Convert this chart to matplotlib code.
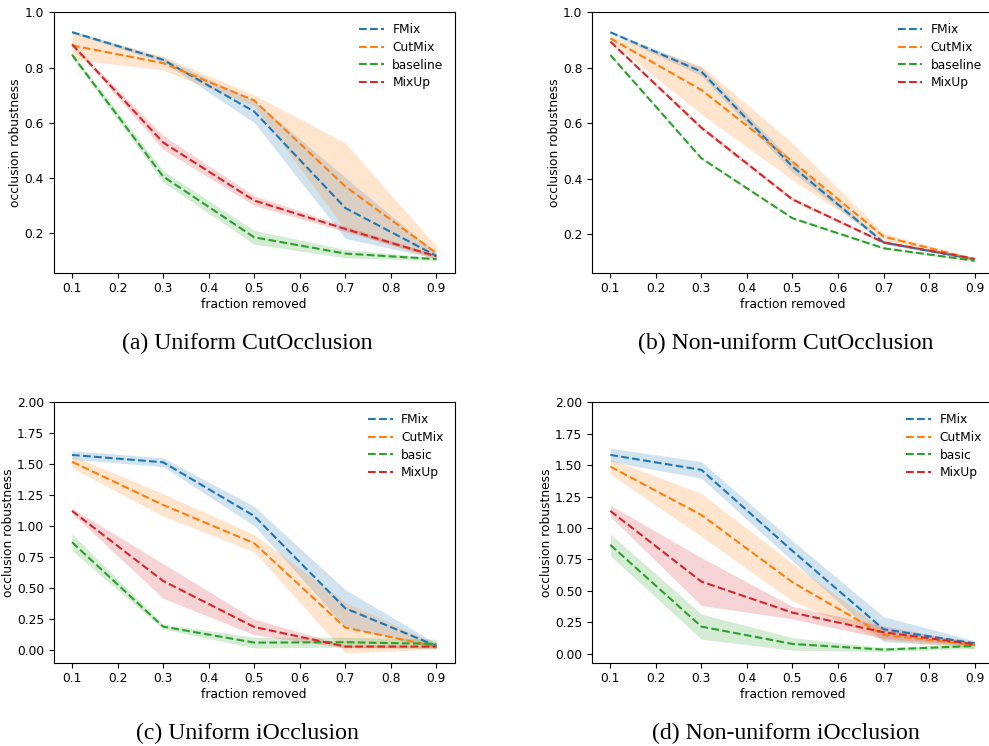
import numpy as np
import matplotlib
matplotlib.use("Agg")
import matplotlib.pyplot as plt

frac = [0.1, 0.3, 0.5, 0.7, 0.9]
methods_top = ["FMix", "CutMix", "baseline", "MixUp"]
methods_bot = ["FMix", "CutMix", "basic", "MixUp"]
colors = ["#1f77b4", "#ff7f0e", "#2ca02c", "#d62728"]

# (a) Uniform CutOcclusion: mean, std
a_mean = {
    "FMix":     [0.928, 0.828, 0.641, 0.292, 0.119],
    "CutMix":   [0.880, 0.816, 0.681, 0.370, 0.129],
    "baseline": [0.846, 0.406, 0.186, 0.127, 0.107],
    "MixUp":    [0.884, 0.529, 0.319, 0.216, 0.117],
}
a_std = {
    "FMix":     [0.005, 0.008, 0.040, 0.110, 0.010],
    "CutMix":   [0.050, 0.025, 0.020, 0.157, 0.024],
    "baseline": [0.008, 0.021, 0.025, 0.015, 0.005],
    "MixUp":    [0.005, 0.025, 0.018, 0.010, 0.005],
}
# (b) Non-uniform CutOcclusion
b_mean = {
    "FMix":     [0.928, 0.786, 0.444, 0.171, 0.110],
    "CutMix":   [0.906, 0.720, 0.462, 0.192, 0.110],
    "baseline": [0.846, 0.474, 0.258, 0.150, 0.105],
    "MixUp":    [0.894, 0.584, 0.326, 0.171, 0.112],
}
b_std = {
    "FMix":     [0.004, 0.015, 0.020, 0.006, 0.003],
    "CutMix":   [0.010, 0.087, 0.066, 0.012, 0.004],
    "baseline": [0.003, 0.003, 0.003, 0.003, 0.003],
    "MixUp":    [0.004, 0.008, 0.006, 0.004, 0.003],
}
# (c) Uniform iOcclusion
c_mean = {
    "FMix":   [1.575, 1.516, 1.083, 0.339, 0.035],
    "CutMix": [1.520, 1.172, 0.863, 0.183, 0.030],
    "basic":  [0.871, 0.191, 0.062, 0.065, 0.051],
    "MixUp":  [1.124, 0.559, 0.188, 0.030, 0.030],
}
c_std = {
    "FMix":   [0.035, 0.035, 0.078, 0.150, 0.020],
    "CutMix": [0.050, 0.090, 0.070, 0.205, 0.020],
    "basic":  [0.067, 0.020, 0.043, 0.040, 0.038],
    "MixUp":  [0.020, 0.140, 0.063, 0.010, 0.010],
}
# (d) Non-uniform iOcclusion
d_mean = {
    "FMix":   [1.581, 1.462, 0.817, 0.194, 0.082],
    "CutMix": [1.488, 1.103, 0.568, 0.149, 0.069],
    "basic":  [0.865, 0.215, 0.077, 0.032, 0.061],
    "MixUp":  [1.135, 0.573, 0.326, 0.170, 0.074],
}
d_std = {
    "FMix":   [0.053, 0.066, 0.080, 0.100, 0.020],
    "CutMix": [0.060, 0.170, 0.150, 0.040, 0.030],
    "basic":  [0.086, 0.100, 0.050, 0.015, 0.020],
    "MixUp":  [0.045, 0.190, 0.050, 0.050, 0.010],
}

captions = ["(a) Uniform CutOcclusion", "(b) Non-uniform CutOcclusion",
            "(c) Uniform iOcclusion", "(d) Non-uniform iOcclusion"]

fig = plt.figure(figsize=(9.89, 7.46), dpi=100)
fs = 8.8

def panel(rect, means, stds, names, ylim, yticks, yfmt):
    ax = fig.add_axes(rect)
    x = np.array(frac)
    for name, c in zip(names, colors):
        m = np.array(means[name])
        s = np.array(stds[name])
        ax.plot(x, m, "--", color=c, lw=1.5, label=name)
        ax.fill_between(x, m - s, m + s, color=c, alpha=0.2, lw=0)
    xt = np.arange(0.1, 0.95, 0.1)
    ax.set_xticks(xt)
    ax.set_xticklabels(["%.1f" % v for v in xt], fontsize=fs)
    ax.set_xlim(0.06, 0.94)
    ax.set_ylim(*ylim)
    ax.set_yticks(yticks)
    ax.set_yticklabels([yfmt % v for v in yticks], fontsize=fs)
    ax.set_xlabel("fraction removed", fontsize=fs, labelpad=2)
    ax.set_ylabel("occlusion robustness", fontsize=fs, labelpad=1.5)
    ax.legend(loc="upper right", frameon=False, fontsize=fs,
              handlelength=2.0, handletextpad=0.7, labelspacing=0.38)
    return ax

w, h = 0.4052, 0.3491
panel([0.0544, 0.6345, w, h], a_mean, a_std, methods_top, (0.058, 1.0),
      [0.2, 0.4, 0.6, 0.8, 1.0], "%.1f")
panel([0.5987, 0.6345, w, h], b_mean, b_std, methods_top, (0.062, 1.0),
      [0.2, 0.4, 0.6, 0.8, 1.0], "%.1f")
panel([0.0544, 0.1117, w, h], c_mean, c_std, methods_bot, (-0.1, 2.0),
      list(np.arange(0, 2.01, 0.25)), "%.2f")
panel([0.5987, 0.1117, w, h], d_mean, d_std, methods_bot, (-0.072, 2.0),
      list(np.arange(0, 2.01, 0.25)), "%.2f")

cap_font = dict(family="Liberation Serif", fontsize=17.1, ha="center", va="center")
fig.text(247 / 989, 1 - 343 / 746, captions[0], **cap_font)
fig.text(786 / 989, 1 - 343 / 746, captions[1], **cap_font)
fig.text(247 / 989, 1 - 733 / 746, captions[2], **cap_font)
fig.text(786 / 989, 1 - 733 / 746, captions[3], **cap_font)

fig.savefig("out.png", dpi=100)
